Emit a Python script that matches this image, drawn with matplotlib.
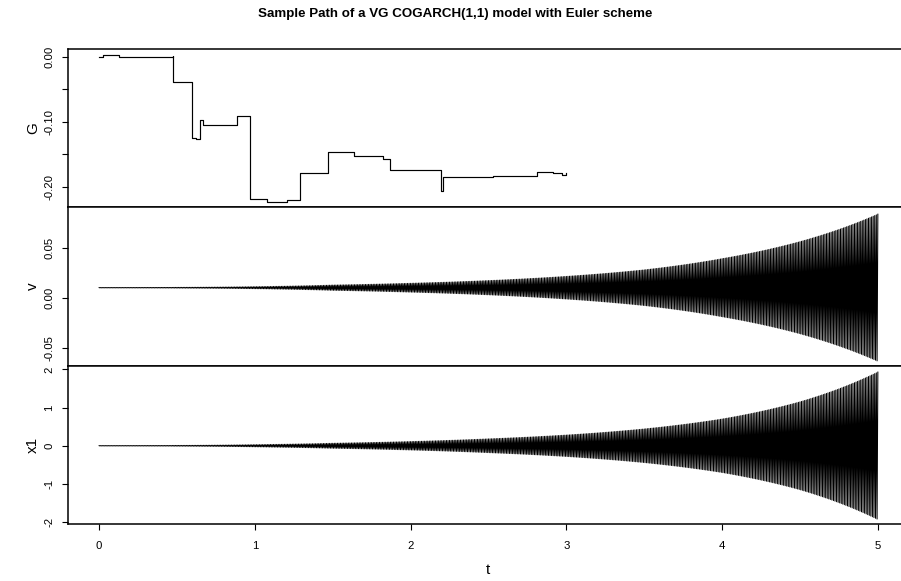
import numpy as np
import matplotlib
matplotlib.use("Agg")
import matplotlib.pyplot as plt

plt.rcParams['font.family'] = ['Liberation Sans', 'DejaVu Sans']
plt.rcParams['axes.unicode_minus'] = False

# G path (jump times and levels)
g_t = [0.0, 0.024, 0.130, 0.370, 0.473, 0.477, 0.563, 0.595, 0.623, 0.648,
       0.669, 0.888, 0.969, 1.076, 1.205, 1.290, 1.472, 1.639, 1.825, 1.868,
       2.193, 2.206, 2.531, 2.813, 2.916, 2.970, 3.0]
g_val = [-0.001, 0.0026, -0.0005, -0.001, 0.001, -0.0385, -0.0395, -0.1256, -0.127, -0.097,
         -0.105, -0.091, -0.218, -0.223, -0.221, -0.178, -0.146, -0.152, -0.157, -0.174,
         -0.206, -0.185, -0.183, -0.177, -0.178, -0.182, -0.179]

# envelope of the oscillating states, read at t = 0, 0.5, ..., 5
env_t = [0.0, 0.5, 1.0, 1.5, 2.0, 2.5, 3.0, 3.5, 4.0, 4.5, 5.0]
v_center = 0.010
v_amp = [0.0001, 0.0003, 0.001, 0.0026, 0.0044, 0.0071, 0.0113, 0.0178, 0.029, 0.046, 0.0735]
x1_amp = [0.003, 0.008, 0.028, 0.065, 0.11, 0.18, 0.28, 0.44, 0.70, 1.15, 1.93]
n_steps = 1000

t = np.linspace(0, 5, n_steps + 1)
sign = np.where(np.arange(n_steps + 1) % 2 == 0, 1.0, -1.0)
# envelope joined smoothly (log scale) between the read points
v = v_center + sign * np.exp(np.interp(t, env_t, np.log(v_amp)))
x1 = sign * np.exp(np.interp(t, env_t, np.log(x1_amp)))

W, H = 901, 581
fig = plt.figure(figsize=(W / 100, H / 100), dpi=100)

left = 68 / W
width = (909 - 68) / W
panels = [(49, 207), (207, 366), (366, 524)]
axes = []
for top, bot in panels:
    ax = fig.add_axes([left, 1 - bot / H, width, (bot - top) / H])
    axes.append(ax)

ax_g, ax_v, ax_x = axes

ax_g.plot(g_t, g_val, color='black', lw=0.85, drawstyle='steps-post')
ax_g.set_ylim(-0.231, 0.0118)
ax_g.set_yticks([0.0, -0.05, -0.10, -0.15, -0.20])
ax_g.set_yticklabels(['0.00', '', '-0.10', '', '-0.20'])

ax_v.plot(t, v, color='black', lw=0.75)
ax_v.set_ylim(-0.0683, 0.0907)
ax_v.set_yticks([-0.05, 0.0, 0.05])
ax_v.set_yticklabels(['-0.05', '0.00', '0.05'])

ax_x.plot(t, x1, color='black', lw=0.75)
ax_x.set_ylim(-2.05, 2.09)
ax_x.set_yticks([-2, -1, 0, 1, 2])
ax_x.set_yticklabels(['-2', '-1', '0', '1', '2'])
ax_x.set_xticks([0, 1, 2, 3, 4, 5])

for ax, lab in zip(axes, ['G', 'v', 'x1']):
    ax.set_xlim(-0.2, 5.2)
    for s in ax.spines.values():
        s.set_linewidth(1.1)
    ax.tick_params(axis='y', direction='out', length=4, width=0.8, labelsize=8.2,
                   pad=6, labelrotation=90)
    for tl in ax.get_yticklabels():
        tl.set_va('center')
    ax.set_ylabel(lab, fontsize=11)
    ax.yaxis.set_label_coords(-(68 - 40) / (909 - 68), 0.5)
    if ax is not ax_x:
        ax.tick_params(axis='x', bottom=False, labelbottom=False)

ax_x.tick_params(axis='x', direction='out', length=4, width=0.8, labelsize=8.2, pad=8)
fig.text(488 / W, 1 - 570 / H, 't', fontsize=11, ha='center', va='center')

fig.text(0.505, 1 - 14 / H, 'Sample Path of a VG COGARCH(1,1) model with Euler scheme',
         fontsize=9.6, fontweight='bold', ha='center', va='center')

fig.savefig('out.png', dpi=100)
